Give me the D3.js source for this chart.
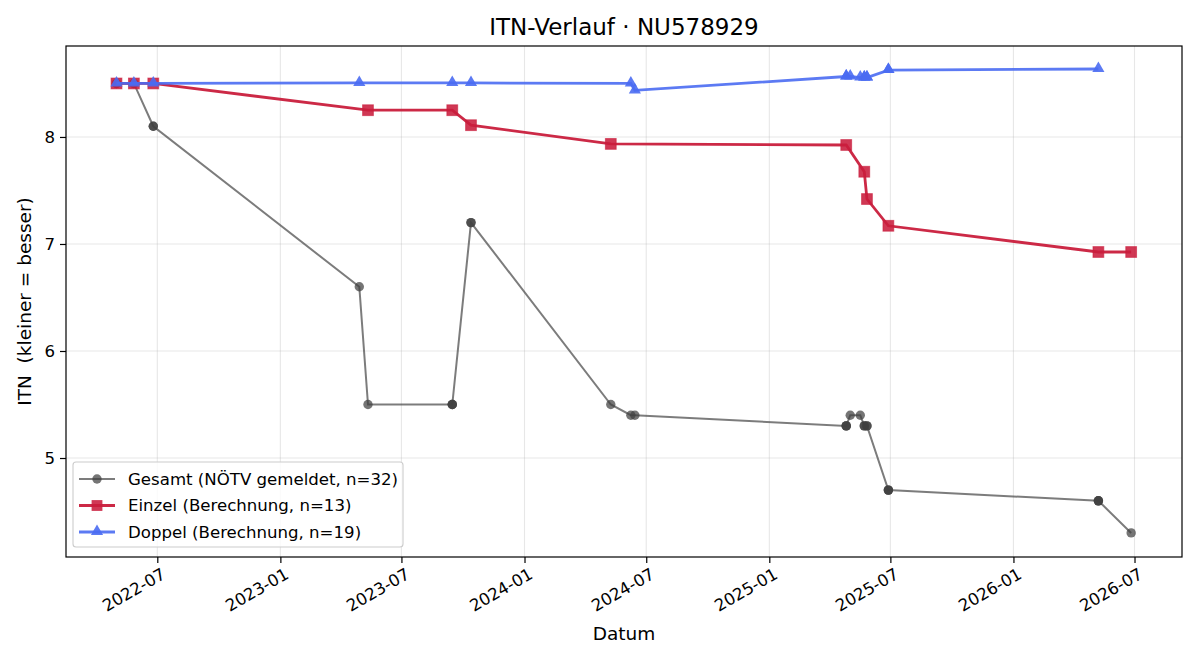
<!doctype html>
<html lang="de">
<head>
<meta charset="utf-8">
<title>ITN-Verlauf</title>
<script src="https://cdn.jsdelivr.net/npm/d3@7"></script>
<style>
  body { margin: 0; background: #fff; }
  svg text { font-family: "DejaVu Sans", sans-serif; fill: #000; }
</style>
</head>
<body>
<svg id="chart" width="1200" height="660"></svg>
<script>
// Gesamt (NÖTV gemeldet) - duplicates at the same date are real entries
var gesamtDates = ["2022-05-01","2022-05-01","2022-05-27","2022-05-27","2022-06-25","2022-06-25",
  "2023-04-29","2023-05-12","2023-09-15","2023-09-15","2023-09-15","2023-10-13","2023-10-13",
  "2024-05-09","2024-06-08","2024-06-14","2025-04-26","2025-04-26","2025-04-26","2025-05-02",
  "2025-05-17","2025-05-23","2025-05-23","2025-05-27","2025-05-27","2025-06-28","2025-06-28",
  "2025-06-28","2026-05-08","2026-05-08","2026-05-08","2026-06-26"];
var gesamtValues = [8.5,8.5,8.5,8.5,8.1,8.1,
  6.6,5.5,5.5,5.5,5.5,7.2,7.2,
  5.5,5.4,5.4,5.3,5.3,5.3,5.4,
  5.4,5.3,5.3,5.3,5.3,4.7,4.7,
  4.7,4.6,4.6,4.6,4.3];

var einzelDates = ["2022-05-01","2022-05-27","2022-06-25","2023-05-12","2023-09-15","2023-10-13",
  "2024-05-09","2025-04-26","2025-05-23","2025-05-27","2025-06-28","2026-05-08","2026-06-26"];
var einzelValues = [8.5,8.5,8.5,8.25,8.25,8.11,7.935,7.925,7.675,7.42,7.17,6.925,6.925];

var doppelDates = ["2022-05-01","2022-05-27","2022-06-25","2023-04-29","2023-09-15","2023-10-13",
  "2024-06-08","2024-06-14","2025-04-26","2025-04-26","2025-05-02","2025-05-17","2025-05-23",
  "2025-05-23","2025-05-27","2025-05-27","2025-06-28","2025-06-28","2026-05-08"];
var doppelValues = [8.5,8.5,8.5,8.505,8.505,8.505,
  8.5,8.435,8.565,8.565,8.565,8.555,8.555,
  8.555,8.555,8.555,8.625,8.625,8.635];

var xTicks = ["2022-07","2023-01","2023-07","2024-01","2024-07","2025-01","2025-07","2026-01","2026-07"];
var yTicks = [5,6,7,8];

var parse = d3.timeParse("%Y-%m-%d");
var parseMonth = d3.timeParse("%Y-%m");

var svg = d3.select("#chart");
var pLeft = 66, pRight = 1182, pTop = 46, pBottom = 557;

var x = d3.scaleTime()
  .domain([new Date(2022, 1, 14, 12), new Date(2026, 8, 10)])
  .range([pLeft, pRight]);
var y = d3.scaleLinear().domain([4.075, 8.85]).range([pBottom, pTop]);

// grid
var grid = svg.append("g");
grid.selectAll(".gx").data(xTicks).enter().append("line")
  .attr("x1", function(d) { return x(parseMonth(d)); })
  .attr("x2", function(d) { return x(parseMonth(d)); })
  .attr("y1", pTop).attr("y2", pBottom)
  .attr("stroke", "#b0b0b0").attr("stroke-opacity", 0.3).attr("stroke-width", 1.1);
grid.selectAll(".gy").data(yTicks).enter().append("line")
  .attr("y1", function(d) { return y(d); })
  .attr("y2", function(d) { return y(d); })
  .attr("x1", pLeft).attr("x2", pRight)
  .attr("stroke", "#b0b0b0").attr("stroke-opacity", 0.3).attr("stroke-width", 1.1);

// axes
var xAxis = svg.append("g")
  .attr("transform", "translate(0," + pBottom + ")")
  .call(d3.axisBottom(x).tickValues(xTicks.map(function(d) { return parseMonth(d); }))
    .tickFormat(d3.timeFormat("%Y-%m")).tickSize(6).tickPadding(0));
xAxis.select(".domain").remove();
xAxis.selectAll(".tick line").attr("stroke", "#000").attr("stroke-width", 1.2);
xAxis.selectAll(".tick text")
  .attr("font-size", "16.6px")
  .attr("text-anchor", "end")
  .attr("y", 0).attr("dy", "0.72em")
  .attr("transform", "translate(3,10) rotate(-30)");

var yAxis = svg.append("g")
  .attr("transform", "translate(" + pLeft + ",0)")
  .call(d3.axisLeft(y).tickValues(yTicks).tickFormat(d3.format("d")).tickSize(6).tickPadding(5));
yAxis.select(".domain").remove();
yAxis.selectAll(".tick line").attr("stroke", "#000").attr("stroke-width", 1.2);
yAxis.selectAll(".tick text").attr("font-size", "16.6px");

function rows(dates, values) {
  return dates.map(function(d, i) { return { date: parse(d), value: values[i] }; });
}
var gesamt = rows(gesamtDates, gesamtValues);
var einzel = rows(einzelDates, einzelValues);
var doppel = rows(doppelDates, doppelValues);

var line = d3.line()
  .x(function(d) { return x(d.date); })
  .y(function(d) { return y(d.value); });

var plot = svg.append("g");

// Gesamt
plot.append("path").datum(gesamt).attr("d", line)
  .attr("fill", "none").attr("stroke", "#444").attr("stroke-opacity", 0.7).attr("stroke-width", 2);
plot.selectAll(".g").data(gesamt).enter().append("circle")
  .attr("cx", function(d) { return x(d.date); })
  .attr("cy", function(d) { return y(d.value); })
  .attr("r", 4.7)
  .attr("fill", "#404040").attr("fill-opacity", 0.72);

// Einzel
plot.append("path").datum(einzel).attr("d", line)
  .attr("fill", "none").attr("stroke", "#c91d3c").attr("stroke-opacity", 0.95).attr("stroke-width", 2.8);
plot.selectAll(".e").data(einzel).enter().append("rect")
  .attr("x", function(d) { return x(d.date) - 5.4; })
  .attr("y", function(d) { return y(d.value) - 5.4; })
  .attr("width", 10.8).attr("height", 10.8)
  .attr("fill", "#c91d3c").attr("fill-opacity", 0.88)
  .attr("stroke", "#c91d3c").attr("stroke-opacity", 0.6).attr("stroke-width", 1);

// Doppel
var tri = d3.symbol().type(d3.symbolTriangle).size(64);
plot.append("path").datum(doppel).attr("d", line)
  .attr("fill", "none").attr("stroke", "#4a6cf2").attr("stroke-opacity", 0.9).attr("stroke-width", 2.8);
plot.selectAll(".d").data(doppel).enter().append("path")
  .attr("d", tri)
  .attr("transform", function(d) { return "translate(" + x(d.date) + "," + (y(d.value) - 0.5) + ")"; })
  .attr("fill", "#4a6cf2").attr("fill-opacity", 0.9);

// frame
svg.append("rect").attr("x", pLeft).attr("y", pTop)
  .attr("width", pRight - pLeft).attr("height", pBottom - pTop)
  .attr("fill", "none").attr("stroke", "#000").attr("stroke-width", 1.2);

// title & labels
svg.append("text").attr("x", (pLeft + pRight) / 2).attr("y", 35)
  .attr("text-anchor", "middle").attr("font-size", "23px")
  .text("ITN-Verlauf \u00b7 NU578929");
svg.append("text").attr("x", (pLeft + pRight) / 2).attr("y", 640)
  .attr("text-anchor", "middle").attr("font-size", "18.5px")
  .text("Datum");
svg.append("text")
  .attr("transform", "translate(31," + ((pTop + pBottom) / 2) + ") rotate(-90)")
  .attr("text-anchor", "middle").attr("font-size", "18.5px")
  .attr("xml:space", "preserve")
  .text("ITN  (kleiner = besser)");

// legend
var legendNames = ["Gesamt (N\u00d6TV gemeldet, n=32)", "Einzel (Berechnung, n=13)", "Doppel (Berechnung, n=19)"];
var legend = svg.append("g");
legend.append("rect").attr("x", 73).attr("y", 462).attr("width", 330).attr("height", 85)
  .attr("rx", 3).attr("fill", "#fff").attr("fill-opacity", 0.8)
  .attr("stroke", "#cccccc").attr("stroke-width", 1.1);
var rowsY = [479, 505.5, 532];
legendNames.forEach(function(name, i) {
  var ly = rowsY[i];
  var g = legend.append("g");
  if (i === 0) {
    g.append("line").attr("x1", 79).attr("x2", 115).attr("y1", ly).attr("y2", ly)
      .attr("stroke", "#444").attr("stroke-opacity", 0.7).attr("stroke-width", 2);
    g.append("circle").attr("cx", 97).attr("cy", ly).attr("r", 4.7)
      .attr("fill", "#404040").attr("fill-opacity", 0.72);
  } else if (i === 1) {
    g.append("line").attr("x1", 79).attr("x2", 115).attr("y1", ly).attr("y2", ly)
      .attr("stroke", "#c91d3c").attr("stroke-opacity", 0.95).attr("stroke-width", 2.8);
    g.append("rect").attr("x", 97 - 5.4).attr("y", ly - 5.4).attr("width", 10.8).attr("height", 10.8)
      .attr("fill", "#c91d3c").attr("fill-opacity", 0.88);
  } else {
    g.append("line").attr("x1", 79).attr("x2", 115).attr("y1", ly).attr("y2", ly)
      .attr("stroke", "#4a6cf2").attr("stroke-opacity", 0.9).attr("stroke-width", 2.8);
    g.append("path").attr("d", tri).attr("transform", "translate(97," + (ly - 0.5) + ")")
      .attr("fill", "#4a6cf2").attr("fill-opacity", 0.9);
  }
  g.append("text").attr("x", 128).attr("y", ly).attr("dy", "0.36em")
    .attr("font-size", "16.6px").text(name);
});
</script>
</body>
</html>
